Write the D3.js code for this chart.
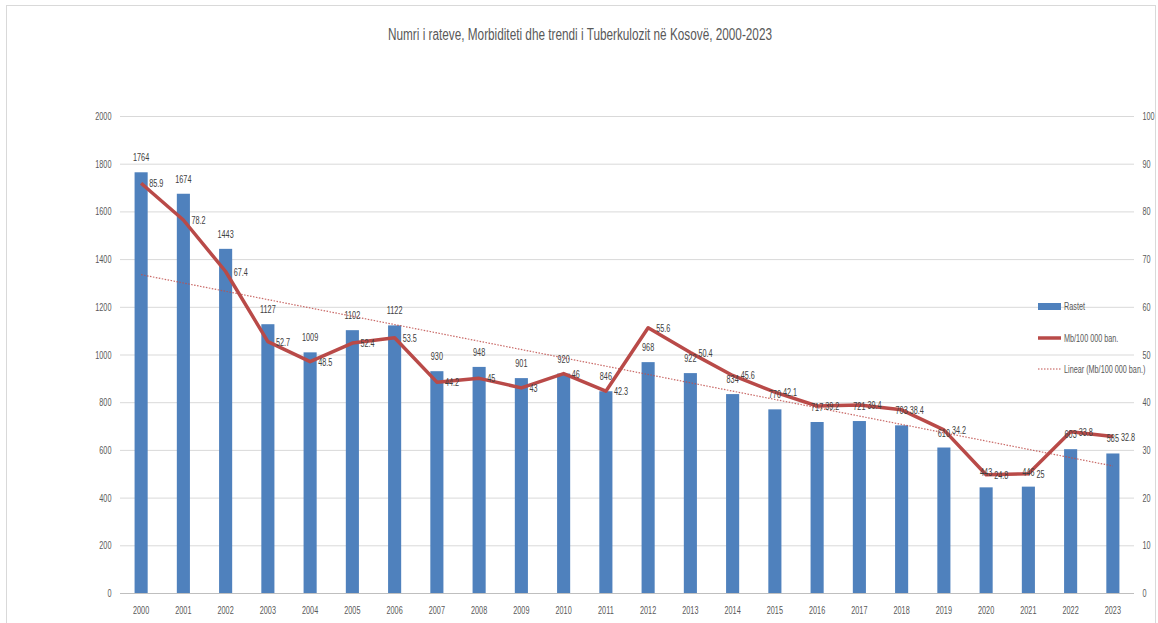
<!DOCTYPE html>
<html><head><meta charset="utf-8">
<script src="https://cdn.jsdelivr.net/npm/d3@7/dist/d3.min.js"></script>
<style>
body{margin:0;background:#fff;}
text{font-family:"Liberation Sans",Arial,sans-serif;}
</style></head><body>
<svg id="c" width="1158" height="623"></svg>
<script>
const years = ["2000","2001","2002","2003","2004","2005","2006","2007","2008","2009","2010","2011","2012","2013","2014","2015","2016","2017","2018","2019","2020","2021","2022","2023"];
const cases = [1764,1674,1443,1127,1009,1102,1122,930,948,901,920,846,968,922,834,770,717,721,703,610,443,446,603,585];
const rates = [85.9,78.2,67.4,52.7,48.5,52.4,53.5,44.2,45,43,46,42.3,55.6,50.4,45.6,42.1,39.2,39.4,38.4,34.2,24.8,25,33.8,32.8];
const leftTicks = [0,200,400,600,800,1000,1200,1400,1600,1800,2000];
const rightTicks = [0,10,20,30,40,50,60,70,80,90,100];
const title = "Numri i rateve, Morbiditeti dhe trendi i Tuberkulozit në Kosovë, 2000-2023";
const legendLabels = ["Rastet","Mb/100 000 ban.","Linear (Mb/100 000 ban.)"];

const SX = 0.66, FS = 11;
const svg = d3.select("#c");
// frame
svg.append("rect").attr("x",6.5).attr("y",5.5).attr("width",1149).attr("height",640)
  .attr("fill","none").attr("stroke","#d9d9d9");

const x = d3.scaleBand().domain(years).range([120,1134]).paddingInner(0.69).paddingOuter(0.345);
const yL = d3.scaleLinear().domain([0,2000]).range([593,116]);
const yR = d3.scaleLinear().domain([0,100]).range([593,116]);

// narrow the glyphs of text anchored at its group's origin
function narrow(sel){ sel.attr("transform",`scale(${SX},1)`).attr("font-size",FS).attr("fill","#595959"); }

// gridlines
svg.append("g").selectAll("line").data(leftTicks).join("line")
  .attr("x1",120).attr("x2",1134).attr("y1",d=>yL(d)+0.5).attr("y2",d=>yL(d)+0.5)
  .attr("stroke",d=>d===0?"#bfbfbf":"#d9d9d9").attr("stroke-width",1);

// left axis
const gl = svg.append("g").attr("transform","translate(120,0)")
  .call(d3.axisLeft(yL).tickValues(leftTicks).tickFormat(d3.format("d")).tickSize(0).tickPadding(13));
gl.select(".domain").remove();
gl.selectAll("text").call(narrow);

// right axis
const gr = svg.append("g").attr("transform","translate(1134,0)")
  .call(d3.axisRight(yR).tickValues(rightTicks).tickFormat(d3.format("d")).tickSize(0).tickPadding(13));
gr.select(".domain").remove();
gr.selectAll("text").call(narrow);

// x axis
const gx = svg.append("g").attr("transform","translate(0,593)")
  .call(d3.axisBottom(x).tickSize(0).tickPadding(13));
gx.select(".domain").remove();
gx.selectAll("text").call(narrow);

// bars
svg.append("g").selectAll("rect").data(cases).join("rect")
  .attr("x",(d,i)=>x(years[i])).attr("width",x.bandwidth())
  .attr("y",d=>yL(d)).attr("height",d=>yL(0)-yL(d)).attr("fill","#4f81bd");

// linear trendline (least squares on the rate series)
const n = rates.length;
const xs = d3.range(n);
const mx = d3.mean(xs), my = d3.mean(rates);
const slope = d3.sum(xs,(v,i)=>(v-mx)*(rates[i]-my))/d3.sum(xs,v=>(v-mx)*(v-mx));
const icpt = my - slope*mx;
const cx = i => x(years[i]) + x.bandwidth()/2;
svg.append("line")
  .attr("x1",cx(0)).attr("y1",yR(icpt))
  .attr("x2",cx(n-1)).attr("y2",yR(icpt+slope*(n-1)))
  .attr("stroke","#c0504d").attr("stroke-width",1.2).attr("stroke-dasharray","1.5,1.5").attr("opacity",0.85);

// rate line
svg.append("path").datum(rates)
  .attr("d",d3.line().x((d,i)=>cx(i)).y(d=>yR(d)))
  .attr("fill","none").attr("stroke","#b94a48").attr("stroke-width",3.5).attr("stroke-linejoin","round");

// bar labels
svg.append("g").selectAll("g").data(cases).join("g")
  .attr("transform",(d,i)=>`translate(${cx(i)},${yL(d)-11})`)
  .append("text").attr("text-anchor","middle").call(narrow).attr("fill","#404040").text(d=>d);

// rate labels
svg.append("g").selectAll("g").data(rates).join("g")
  .attr("transform",(d,i)=>`translate(${cx(i)+8},${yR(d)+4})`)
  .append("text").call(narrow).attr("fill","#404040").text(d=>d);

// title
svg.append("text").attr("x",580).attr("y",40).attr("text-anchor","middle")
  .attr("font-size",16).attr("fill","#595959")
  .attr("textLength",384).attr("lengthAdjust","spacingAndGlyphs").text(title);

// legend
const lg = svg.append("g");
lg.append("rect").attr("x",1038).attr("y",303).attr("width",23).attr("height",7).attr("fill","#4f81bd");
lg.append("line").attr("x1",1038).attr("x2",1061).attr("y1",338).attr("y2",338)
  .attr("stroke","#b94a48").attr("stroke-width",3.5);
lg.append("line").attr("x1",1038).attr("x2",1061).attr("y1",369).attr("y2",369)
  .attr("stroke","#c0504d").attr("stroke-width",1).attr("stroke-dasharray","1.5,1.5");
lg.selectAll("g.l").data(legendLabels).join("g")
  .attr("transform",(d,i)=>`translate(1064,${[310,342,373][i]})`)
  .append("text").call(narrow).text(d=>d);
</script>
</body></html>
